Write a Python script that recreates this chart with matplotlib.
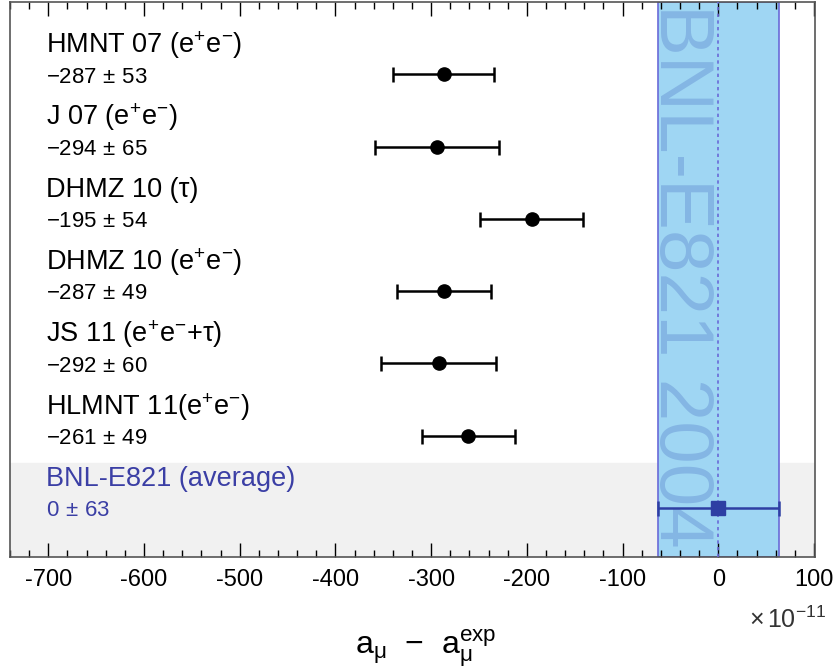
import numpy as np
import matplotlib
matplotlib.use('Agg')
import matplotlib.pyplot as plt
from matplotlib.ticker import MultipleLocator

plt.rcParams['font.family'] = ['Liberation Sans', 'DejaVu Sans']
plt.rcParams['mathtext.fontset'] = 'custom'
plt.rcParams['mathtext.rm'] = 'Liberation Sans'
plt.rcParams['mathtext.it'] = 'Liberation Sans'

# %% podaci

names = ['HMNT 07 (e$^{+}$e$^{-}$)', 'J 07 (e$^{+}$e$^{-}$)', 'DHMZ 10 (τ)',
         'DHMZ 10 (e$^{+}$e$^{-}$)', 'JS 11 (e$^{+}$e$^{-}$+τ)', 'HLMNT 11(e$^{+}$e$^{-}$)']
values = [-287, -294, -195, -287, -292, -261]
errors = [53, 65, 54, 49, 60, 49]

bnl_name = 'BNL-E821 (average)'
bnl_value = 0
bnl_error = 63

ypos = np.arange(len(names) + 1, 1, -1)  # 7..2
bnl_y = 1

# %% grafik

fig = plt.figure(figsize=(8.39, 6.71), dpi=100)
ax = fig.add_axes([10 / 839, 1 - 557 / 671, 805 / 839, 555 / 671])

ax.set_xlim(-740, 101)
ax.set_ylim(0.32, 8.0)

# siva traka za BNL prosek
ax.axhspan(0.0, 1.62, color='#f1f1f1', zorder=0)

# plava traka eksperimenta
ax.axvspan(bnl_value - bnl_error, bnl_value + bnl_error, facecolor='#9fd6f3',
           edgecolor='#6a6ad8', linewidth=1.2, zorder=1)
ax.axvline(bnl_value, color='#6a6ad8', linestyle=(0, (2, 2)), linewidth=1.2, zorder=3)
ax.text(-41, 7.97, 'BNL-E821 2004', rotation=-90, fontsize=55, color='#84b6e4',
        ha='center', va='top', zorder=2)

ax.errorbar(values, ypos, xerr=errors, fmt='o', color='black', markersize=9.5,
            linewidth=1.8, capsize=5.4, capthick=1.8, zorder=5)
ax.errorbar([bnl_value], [bnl_y], xerr=[bnl_error], fmt='s', color='#2e3fa3',
            markersize=9.5, linewidth=1.8, capsize=5.4, capthick=1.8, zorder=5)

for name, v, e, y in zip(names, values, errors, ypos):
    ax.text(-702, y + 0.40, name, fontsize=19.5, va='center', ha='left')
    ax.text(-702, y - 0.04, f'−{abs(v)}$\\,\\pm\\,${e}', fontsize=16, va='center', ha='left')

ax.text(-702, bnl_y + 0.40, bnl_name, fontsize=19.5, va='center', ha='left', color='#3b3fa5')
ax.text(-702, bnl_y - 0.04, f'{bnl_value}$\\,\\pm\\,${bnl_error}', fontsize=16,
        va='center', ha='left', color='#3b3fa5')

# ose
ax.xaxis.set_major_locator(MultipleLocator(100))
ax.xaxis.set_minor_locator(MultipleLocator(20))
ax.set_yticks([])
ax.tick_params(axis='x', which='both', direction='in', top=True, bottom=True,
               labelsize=17, pad=9)
ax.tick_params(axis='x', which='major', length=10, width=1)
ax.tick_params(axis='x', which='minor', length=5, width=1)
ax.set_xticklabels([f'{int(t)}' for t in ax.get_xticks()])
for s in ax.spines.values():
    s.set_color('#555555')
    s.set_linewidth(1.2)

fig.text(426 / 839, 1 - 648 / 671, r'a$_{\mu}$  −  a$_{\mu}^{\mathrm{exp}}$',
         fontsize=23, ha='center', va='center')
fig.text(826 / 839, 1 - 620 / 671, r'$\times\,$10$^{-11}$', fontsize=18,
         ha='right', va='center', color='#333333')

plt.savefig('out.png', dpi=100)
